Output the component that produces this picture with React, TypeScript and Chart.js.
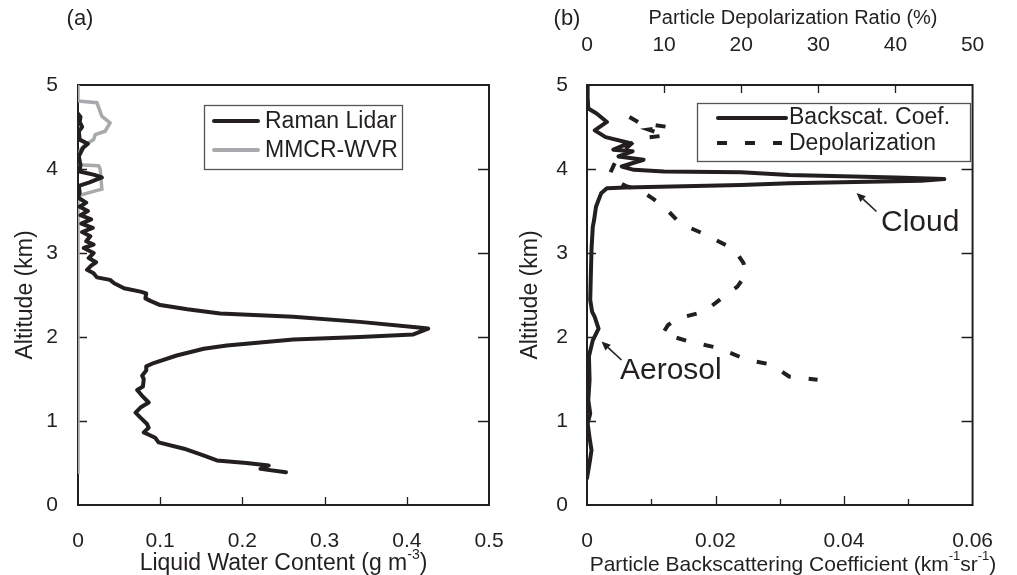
import React, { useEffect, useRef } from 'react';
import { Chart, registerables } from 'chart.js';
Chart.register(...registerables);

const INK = '#231f20';
const GREY = '#a7a9ac';
const FONT = '"Liberation Sans", Arial, Helvetica, sans-serif';

// ---------- Panel (a): liquid water content ----------
const ramanAlt = [0.39, 0.43, 0.45, 0.47, 0.5, 0.53, 0.6, 0.67, 0.745, 0.8, 0.865, 0.92, 0.965, 1.04, 1.1, 1.16, 1.22, 1.3, 1.37, 1.41, 1.5, 1.54, 1.6, 1.65, 1.69, 1.78, 1.86, 1.9, 1.97, 2.0, 2.03, 2.1, 2.12, 2.18, 2.24, 2.28, 2.33, 2.38, 2.43, 2.46, 2.52, 2.54, 2.58, 2.64, 2.68, 2.71, 2.76, 2.8, 2.85, 2.89, 2.94, 3.0, 3.06, 3.1, 3.14, 3.2, 3.25, 3.3, 3.35, 3.4, 3.45, 3.5, 3.55, 3.6, 3.66, 3.72, 3.8, 3.84, 3.9, 3.93, 3.97, 4.05, 4.15, 4.25, 4.3, 4.35, 4.45, 4.5, 4.56, 4.62, 4.66];
const ramanLwc = [0.253, 0.222, 0.225, 0.232, 0.205, 0.169, 0.15, 0.129, 0.098, 0.094, 0.08, 0.086, 0.084, 0.076, 0.07, 0.076, 0.086, 0.078, 0.072, 0.079, 0.08, 0.078, 0.083, 0.083, 0.092, 0.12, 0.153, 0.181, 0.262, 0.343, 0.408, 0.426, 0.408, 0.343, 0.262, 0.173, 0.133, 0.1, 0.088, 0.082, 0.083, 0.076, 0.056, 0.044, 0.039, 0.023, 0.019, 0.011, 0.016, 0.022, 0.013, 0.019, 0.007, 0.019, 0.01, 0.015, 0.005, 0.018, 0.004, 0.016, 0.003, 0.012, 0.002, 0.01, 0.0, 0.002, 0.001, 0.014, 0.029, 0.02, 0.002, 0.003, 0.001, 0.006, 0.012, 0.002, 0.001, 0.005, 0.002, 0.003, 0.0];
const mmcrAlt = [0.37, 3.68, 3.74, 3.76, 4.0, 4.04, 4.05, 4.1, 4.23, 4.29, 4.35, 4.41, 4.45, 4.55, 4.63, 4.79, 4.81, 5.0];
const mmcrLwc = [0, 0, 0.021, 0.029, 0.027, 0.025, 0, 0, 0.003, 0.009, 0.019, 0.021, 0.033, 0.039, 0.029, 0.023, 0, 0];

// ---------- Panel (b): backscatter and depolarization ----------
const backAlt = [5.0, 4.85, 4.72, 4.66, 4.56, 4.46, 4.38, 4.31, 4.23, 4.21, 4.15, 4.11, 4.03, 3.99, 3.97, 3.96, 3.93, 3.9, 3.88, 3.86, 3.83, 3.81, 3.78, 3.77, 3.71, 3.63, 3.55, 3.39, 3.31, 3.04, 2.44, 2.3, 2.24, 2.1, 1.96, 1.77, 1.49, 1.25, 1.09, 0.97, 0.8, 0.65, 0.5, 0.32];
const backCoef = [0.0, 0.0001, 0.0002, 0.0015, 0.0031, 0.0012, 0.0029, 0.0066, 0.0041, 0.0071, 0.0049, 0.0088, 0.0054, 0.0073, 0.012, 0.024, 0.0315, 0.048, 0.0556, 0.052, 0.0315, 0.024, 0.006, 0.0031, 0.0022, 0.0018, 0.0014, 0.0011, 0.0009, 0.0007, 0.0005, 0.0008, 0.0012, 0.0018, 0.0009, 0.0003, 0.0004, 0.0002, 0.0005, 0.0001, 0.0004, 0.0007, 0.0004, 0.0];
const depolAlt = [4.62, 4.55, 4.5, 4.47, 4.4, 4.36, 4.2, 4.05, 3.95, 3.88, 3.8, 3.74, 3.65, 3.55, 3.35, 3.21, 3.04, 2.88, 2.74, 2.6, 2.5, 2.3, 2.22, 2.14, 2.04, 1.94, 1.87, 1.73, 1.67, 1.53, 1.49];
const depolRatio = [5.5, 6.8, 10.5, 8.0, 10.2, 6.5, 4.5, 3.5, 3.0, 3.3, 5.0, 7.0, 8.5, 10.0, 12.1, 15.6, 19.1, 20.3, 20.6, 19.5, 18.0, 15.2, 11.7, 10.5, 9.8, 13.5, 17.0, 20.7, 24.0, 26.2, 29.9];

const altTicks = [1, 2, 3, 4];
const lwcInnerTicks = [0.1, 0.2, 0.3, 0.4];
const coefInnerTicks = [0.01, 0.02, 0.03, 0.04, 0.05];
const depolInnerTicks = [10, 20, 30, 40];

const W = 1017;
const H = 575;

const fmt = (v: any) => String(Math.round(Number(v) * 1000) / 1000);

type Part = { t: string; sup?: boolean };

function drawRich(ctx: CanvasRenderingContext2D, parts: Part[], cx: number, cy: number, size: number, rotate = false) {
  ctx.save();
  ctx.fillStyle = INK;
  ctx.textBaseline = 'middle';
  ctx.textAlign = 'left';
  const supSize = Math.round(size * 0.62);
  const widths = parts.map((p) => {
    ctx.font = `${p.sup ? supSize : size}px ${FONT}`;
    return ctx.measureText(p.t).width;
  });
  const total = widths.reduce((a, b) => a + b, 0);
  ctx.translate(cx, cy);
  if (rotate) ctx.rotate(-Math.PI / 2);
  let x = -total / 2;
  parts.forEach((p, i) => {
    ctx.font = `${p.sup ? supSize : size}px ${FONT}`;
    ctx.fillText(p.t, x, p.sup ? -size * 0.4 : 0);
    x += widths[i];
  });
  ctx.restore();
}

function drawText(ctx: CanvasRenderingContext2D, t: string, x: number, y: number, size: number, align: CanvasTextAlign = 'left') {
  ctx.save();
  ctx.fillStyle = INK;
  ctx.font = `${size}px ${FONT}`;
  ctx.textAlign = align;
  ctx.textBaseline = 'middle';
  ctx.fillText(t, x, y);
  ctx.restore();
}

function drawArrow(ctx: CanvasRenderingContext2D, x1: number, y1: number, x2: number, y2: number) {
  ctx.save();
  ctx.strokeStyle = INK;
  ctx.fillStyle = INK;
  ctx.lineWidth = 1.6;
  const ang = Math.atan2(y2 - y1, x2 - x1);
  const hl = 9;
  const hw = 4;
  const bx = x2 - hl * Math.cos(ang);
  const by = y2 - hl * Math.sin(ang);
  ctx.beginPath();
  ctx.moveTo(x1, y1);
  ctx.lineTo(bx, by);
  ctx.stroke();
  ctx.beginPath();
  ctx.moveTo(x2, y2);
  ctx.lineTo(bx + hw * Math.sin(ang), by - hw * Math.cos(ang));
  ctx.lineTo(bx - hw * Math.sin(ang), by + hw * Math.cos(ang));
  ctx.closePath();
  ctx.fill();
  ctx.restore();
}

function drawFrameAndTicks(chart: any, cfg: { left?: number[]; right?: number[]; bottom?: { v: number; len: number }[]; top?: number[]; topScale?: string }) {
  const ctx: CanvasRenderingContext2D = chart.ctx;
  const a = chart.chartArea;
  const xs = chart.scales.x;
  const ys = chart.scales.y;
  ctx.save();
  ctx.strokeStyle = INK;
  ctx.lineWidth = 1.3;
  ctx.beginPath();
  (cfg.left || []).forEach((v) => {
    const p = Math.round(ys.getPixelForValue(v)) + 0.5;
    ctx.moveTo(a.left, p);
    ctx.lineTo(a.left + 9, p);
  });
  (cfg.right || []).forEach((v) => {
    const p = Math.round(ys.getPixelForValue(v)) + 0.5;
    ctx.moveTo(a.right, p);
    ctx.lineTo(a.right - 11, p);
  });
  (cfg.bottom || []).forEach((t) => {
    const p = Math.round(xs.getPixelForValue(t.v)) + 0.5;
    ctx.moveTo(p, a.bottom);
    ctx.lineTo(p, a.bottom - t.len);
  });
  if (cfg.top && cfg.topScale) {
    const ts = chart.scales[cfg.topScale];
    cfg.top.forEach((v) => {
      const p = Math.round(ts.getPixelForValue(v)) + 0.5;
      ctx.moveTo(p, a.top);
      ctx.lineTo(p, a.top + 8);
    });
  }
  ctx.stroke();
  ctx.lineWidth = 2;
  ctx.strokeRect(a.left, a.top, a.right - a.left, a.bottom - a.top);
  ctx.restore();
}

const panelAPlugin = {
  id: 'panelA',
  beforeDatasetsDraw(chart: any) {
    drawFrameAndTicks(chart, {
      left: altTicks,
      right: altTicks,
      bottom: lwcInnerTicks.map((v) => ({ v, len: 8 })),
    });
  },
  afterDraw(chart: any) {
    const ctx: CanvasRenderingContext2D = chart.ctx;
    const a = chart.chartArea;
    drawText(ctx, '(a)', 80, 19, 22, 'center');
    drawRich(ctx, [{ t: 'Altitude (km)' }], 26, (a.top + a.bottom) / 2, 23, true);
    drawRich(ctx, [{ t: 'Liquid Water Content (g m' }, { t: '-3', sup: true }, { t: ')' }], (a.left + a.right) / 2, 564, 23);
    // legend
    ctx.save();
    ctx.fillStyle = '#fff';
    ctx.fillRect(204.5, 105.5, 198, 64);
    ctx.strokeStyle = '#555';
    ctx.lineWidth = 1.3;
    ctx.strokeRect(204.5, 105.5, 198, 64);
    ctx.lineCap = 'round';
    ctx.lineWidth = 4;
    ctx.strokeStyle = INK;
    ctx.beginPath();
    ctx.moveTo(214, 121);
    ctx.lineTo(258, 121);
    ctx.stroke();
    ctx.strokeStyle = GREY;
    ctx.beginPath();
    ctx.moveTo(214, 150);
    ctx.lineTo(258, 150);
    ctx.stroke();
    ctx.restore();
    drawText(ctx, 'Raman Lidar', 265, 122, 23);
    drawText(ctx, 'MMCR-WVR', 265, 151, 23);
  },
};

const panelBPlugin = {
  id: 'panelB',
  beforeDatasetsDraw(chart: any) {
    drawFrameAndTicks(chart, {
      left: altTicks,
      right: altTicks,
      bottom: coefInnerTicks.map((v, i) => ({ v, len: i % 2 === 1 ? 9 : 6 })),
      top: depolInnerTicks,
      topScale: 'x2',
    });
  },
  afterDraw(chart: any) {
    const ctx: CanvasRenderingContext2D = chart.ctx;
    const a = chart.chartArea;
    drawText(ctx, '(b)', 567, 19, 22, 'center');
    drawRich(ctx, [{ t: 'Particle Depolarization Ratio (%)' }], 793, 18, 20);
    drawRich(ctx, [{ t: 'Altitude (km)' }], 531, (a.top + a.bottom) / 2, 23, true);
    drawRich(
      ctx,
      [{ t: 'Particle Backscattering Coefficient (km' }, { t: '-1', sup: true }, { t: 'sr' }, { t: '-1', sup: true }, { t: ')' }],
      793,
      565,
      21
    );
    // legend
    ctx.save();
    ctx.strokeStyle = '#555';
    ctx.lineWidth = 1.3;
    ctx.strokeRect(697.5, 103.5, 273, 58);
    ctx.lineWidth = 4;
    ctx.strokeStyle = INK;
    ctx.lineCap = 'round';
    ctx.beginPath();
    ctx.moveTo(718, 118);
    ctx.lineTo(786, 118);
    ctx.stroke();
    ctx.lineCap = 'butt';
    ctx.setLineDash([10, 18]);
    ctx.beginPath();
    ctx.moveTo(717, 143);
    ctx.lineTo(782, 143);
    ctx.stroke();
    ctx.restore();
    drawText(ctx, 'Backscat. Coef.', 789, 118, 23);
    drawText(ctx, 'Depolarization', 789, 144, 23);
    // annotations
    drawArrow(ctx, 876.5, 211.5, 856.5, 193);
    drawText(ctx, 'Cloud', 881, 223, 30);
    drawArrow(ctx, 621.5, 360, 601.5, 341.5);
    drawText(ctx, 'Aerosol', 620, 371, 30);
  },
};

const tickFont = { family: FONT, size: 21 };

export default function App() {
  const refA = useRef<HTMLCanvasElement>(null);
  const refB = useRef<HTMLCanvasElement>(null);

  useEffect(() => {
    const chartA = new Chart(refA.current as HTMLCanvasElement, {
      type: 'scatter',
      data: {
        datasets: [
          {
            label: 'Raman Lidar',
            data: ramanAlt.map((alt, i) => ({ x: ramanLwc[i], y: alt })),
            showLine: true,
            borderColor: INK,
            borderWidth: 4,
            pointRadius: 0,
            borderJoinStyle: 'round',
            borderCapStyle: 'round',
            order: 1,
          },
          {
            label: 'MMCR-WVR',
            data: mmcrAlt.map((alt, i) => ({ x: mmcrLwc[i], y: alt })),
            showLine: true,
            borderColor: GREY,
            borderWidth: 3.5,
            pointRadius: 0,
            borderJoinStyle: 'miter',
            order: 2,
          },
        ],
      },
      options: {
        responsive: false,
        animation: false,
        events: [],
        layout: { padding: { left: 0, right: W - 489, top: 85, bottom: 0 } },
        plugins: { legend: { display: false }, tooltip: { enabled: false } },
        scales: {
          x: {
            type: 'linear',
            position: 'bottom',
            min: 0,
            max: 0.5,
            grid: { display: false, drawTicks: false },
            border: { display: false },
            ticks: { stepSize: 0.1, padding: 24, color: INK, font: tickFont, callback: fmt, maxRotation: 0 },
            afterFit: (s: any) => {
              s.height = 70;
            },
          },
          y: {
            type: 'linear',
            min: 0,
            max: 5,
            grid: { display: false, drawTicks: false },
            border: { display: false },
            ticks: { stepSize: 1, padding: 20, color: INK, font: tickFont, callback: fmt },
            afterFit: (s: any) => {
              s.width = 78;
            },
          },
        },
      } as any,
      plugins: [panelAPlugin],
    });

    const chartB = new Chart(refB.current as HTMLCanvasElement, {
      type: 'scatter',
      data: {
        datasets: [
          {
            label: 'Backscat. Coef.',
            data: backAlt.map((alt, i) => ({ x: backCoef[i], y: alt })),
            showLine: true,
            borderColor: INK,
            borderWidth: 4,
            pointRadius: 0,
            borderJoinStyle: 'round',
            borderCapStyle: 'round',
            xAxisID: 'x',
            order: 1,
          },
          {
            label: 'Depolarization',
            data: depolAlt.map((alt, i) => ({ x: depolRatio[i], y: alt })),
            showLine: true,
            borderColor: INK,
            borderWidth: 4,
            borderDash: [10, 18],
            pointRadius: 0,
            xAxisID: 'x2',
            order: 2,
          },
        ],
      },
      options: {
        responsive: false,
        animation: false,
        events: [],
        layout: { padding: { left: 509, right: W - 992, top: 0, bottom: 0 } },
        plugins: { legend: { display: false }, tooltip: { enabled: false } },
        scales: {
          x: {
            type: 'linear',
            position: 'bottom',
            min: 0,
            max: 0.06,
            grid: { display: false, drawTicks: false },
            border: { display: false },
            ticks: { stepSize: 0.02, padding: 24, color: INK, font: tickFont, callback: fmt, maxRotation: 0 },
            afterFit: (s: any) => {
              s.height = 70;
            },
          },
          x2: {
            type: 'linear',
            position: 'top',
            min: 0,
            max: 50,
            grid: { display: false, drawTicks: false },
            border: { display: false },
            ticks: { stepSize: 10, padding: 27, color: INK, font: tickFont, callback: fmt, maxRotation: 0 },
            afterFit: (s: any) => {
              s.height = 85;
            },
          },
          y: {
            type: 'linear',
            min: 0,
            max: 5,
            grid: { display: false, drawTicks: false },
            border: { display: false },
            ticks: { stepSize: 1, padding: 19, color: INK, font: tickFont, callback: fmt },
            afterFit: (s: any) => {
              s.width = 78;
            },
          },
        },
      } as any,
      plugins: [panelBPlugin],
    });

    return () => {
      chartA.destroy();
      chartB.destroy();
    };
  }, []);

  const canvasStyle: React.CSSProperties = { position: 'absolute', left: 0, top: 0, width: W, height: H };
  return (
    <div style={{ position: 'fixed', left: 0, top: 0, width: W, height: H, background: '#fff', overflow: 'hidden' }}>
      <canvas ref={refA} width={W} height={H} style={canvasStyle} />
      <canvas ref={refB} width={W} height={H} style={canvasStyle} />
    </div>
  );
}
